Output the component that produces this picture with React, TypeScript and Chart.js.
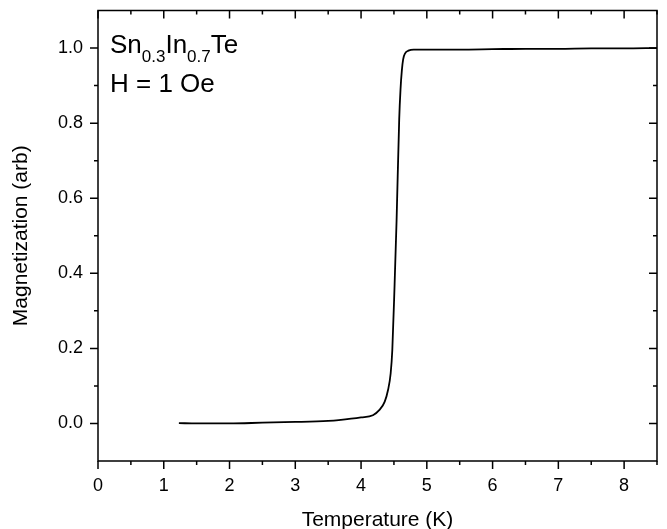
import React, { useEffect, useRef } from "react";
import { Chart, registerables } from "chart.js";

Chart.register(...registerables);

// Data
const temperatureK = [
  1.23, 1.5, 2.0, 2.5, 3.0, 3.5, 3.66, 4.0, 4.18, 4.28, 4.36, 4.41, 4.45, 4.475,
  4.51, 4.54, 4.58, 4.6, 4.62, 4.64, 4.67, 4.72, 4.8, 5.0, 5.5, 6.0, 6.5, 7.0, 7.5,
  8.0, 8.5,
];
const magnetization = [
  0.001, 0.0, 0.0, 0.002, 0.004, 0.007, 0.009, 0.016, 0.022, 0.036, 0.058, 0.089,
  0.133, 0.195, 0.37, 0.54, 0.81, 0.89, 0.94, 0.97, 0.986, 0.993, 0.996, 0.996,
  0.996, 0.997, 0.998, 0.998, 0.999, 0.999, 1.0,
];

const xTickValues = [0, 0.5, 1, 1.5, 2, 2.5, 3, 3.5, 4, 4.5, 5, 5.5, 6, 6.5, 7, 7.5, 8, 8.5];
const yTickValues = [0, 0.1, 0.2, 0.3, 0.4, 0.5, 0.6, 0.7, 0.8, 0.9, 1.0];

const xTitle = "Temperature (K)";
const yTitle = "Magnetization (arb)";
const formulaParts = [
  { text: "Sn", sub: false },
  { text: "0.3", sub: true },
  { text: "In", sub: false },
  { text: "0.7", sub: true },
  { text: "Te", sub: false },
];
const fieldLabel = "H = 1 Oe";

const FONT = "'Liberation Sans', Arial, sans-serif";

const isMajorX = (v: number) => Math.abs(v - Math.round(v)) < 1e-6;
const isMajorY = (v: number) => Math.round(v * 10) % 2 === 0;

const framePlugin = {
  id: "frameTicks",
  afterDraw(chart: any) {
    const { ctx, chartArea } = chart;
    const xs = chart.scales.x;
    const ys = chart.scales.y;
    const { left, right, top, bottom } = chartArea;
    ctx.save();
    ctx.strokeStyle = "#000";
    ctx.lineWidth = 1.5;
    ctx.lineCap = "butt";
    ctx.beginPath();
    ctx.rect(left, top, right - left, bottom - top);
    ctx.stroke();
    ctx.beginPath();
    xTickValues.forEach((v) => {
      const px = xs.getPixelForValue(v);
      const len = isMajorX(v) ? 8 : 4;
      ctx.moveTo(px, bottom);
      ctx.lineTo(px, bottom + len);
      ctx.moveTo(px, top);
      ctx.lineTo(px, top + len);
    });
    yTickValues.forEach((v) => {
      const py = ys.getPixelForValue(v);
      const len = isMajorY(v) ? 8 : 4;
      ctx.moveTo(left, py);
      ctx.lineTo(left - len, py);
      ctx.moveTo(right, py);
      ctx.lineTo(right - len, py);
    });
    ctx.stroke();

    // annotation
    ctx.fillStyle = "#000";
    ctx.textBaseline = "alphabetic";
    ctx.textAlign = "left";
    let x = left + 12;
    const base = 53;
    formulaParts.forEach((p) => {
      ctx.font = p.sub ? `17px ${FONT}` : `26px ${FONT}`;
      ctx.fillText(p.text, x, p.sub ? base + 8.5 : base);
      x += ctx.measureText(p.text).width;
    });
    ctx.font = `26px ${FONT}`;
    ctx.fillText(fieldLabel, left + 12, 91.5);
    ctx.restore();
  },
};

export default function App() {
  const canvasRef = useRef<HTMLCanvasElement | null>(null);

  useEffect(() => {
    document.body.style.margin = "0";
    const canvas = canvasRef.current;
    if (!canvas) return;
    const chart = new Chart(canvas, {
      type: "line",
      data: {
        datasets: [
          {
            data: temperatureK.map((t, i) => ({ x: t, y: magnetization[i] })),
            borderColor: "#000",
            borderWidth: 1.8,
            pointRadius: 0,
            fill: false,
            cubicInterpolationMode: "monotone",
          },
        ],
      },
      options: {
        responsive: false,
        animation: false,
        events: [],
        layout: { padding: { top: 10.5, right: 10, left: 0, bottom: 0 } },
        plugins: { legend: { display: false }, tooltip: { enabled: false } },
        scales: {
          x: {
            type: "linear",
            min: 0,
            max: 8.5,
            grid: { display: false, drawTicks: false },
            border: { display: false },
            afterBuildTicks: (s: any) => {
              s.ticks = xTickValues.map((v) => ({ value: v }));
            },
            afterFit: (s: any) => {
              s.height = 68;
              s.paddingLeft = 0;
              s.paddingRight = 0;
            },
            ticks: {
              autoSkip: false,
              maxRotation: 0,
              padding: 14,
              color: "#000",
              font: { family: FONT, size: 18 },
              callback: (v: any) => (isMajorX(Number(v)) ? String(Math.round(Number(v))) : ""),
            },
            title: {
              display: true,
              text: xTitle,
              color: "#000",
              font: { family: FONT, size: 21, lineHeight: 1 },
              padding: { top: 0, bottom: -1.5 },
            },
          },
          y: {
            type: "linear",
            min: -0.1,
            max: 1.1,
            grid: { display: false, drawTicks: false },
            border: { display: false },
            afterBuildTicks: (s: any) => {
              s.ticks = yTickValues.map((v) => ({ value: v }));
            },
            afterFit: (s: any) => {
              s.width = 98;
              s.paddingTop = 0;
              s.paddingBottom = 0;
            },
            ticks: {
              autoSkip: false,
              padding: 15,
              color: "#000",
              font: { family: FONT, size: 18 },
              callback: (v: any) => (isMajorY(Number(v)) ? Number(v).toFixed(1) : ""),
            },
            title: {
              display: true,
              text: yTitle,
              color: "#000",
              font: { family: FONT, size: 21, lineHeight: 1 },
              padding: { top: 11, bottom: 0 },
            },
          },
        },
      },
      plugins: [framePlugin],
    } as any);
    return () => chart.destroy();
  }, []);

  return (
    <div style={{ width: 667, height: 529, background: "#fff" }}>
      <canvas ref={canvasRef} width={667} height={529} style={{ display: "block" }} />
    </div>
  );
}
